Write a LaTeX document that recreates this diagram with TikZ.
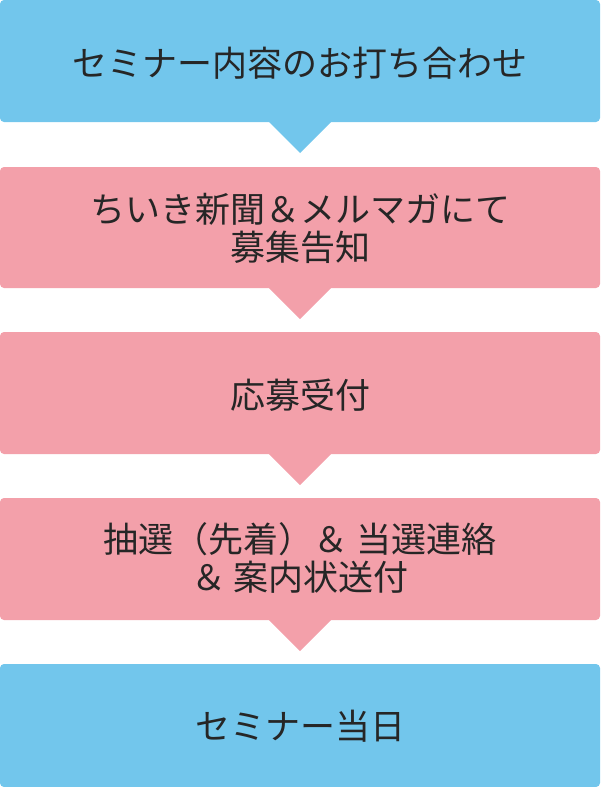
\documentclass[tikz,border=0pt]{standalone}
\usepackage{fontspec}
\setmainfont{Noto Sans CJK JP}
\definecolor{bl}{HTML}{72C6EC}
\definecolor{pk}{HTML}{F3A0AA}
\begin{document}
\begin{tikzpicture}[x=1pt,y=-1pt,
  boxst/.style={rounded corners=4pt},
  txt/.style={font=\fontsize{35}{38}\selectfont,align=center,text=black!85}]
\useasboundingbox (0,0) rectangle (600,787);
\fill[bl,boxst] (0,0) rectangle (600,122);
\fill[bl] (268,121) -- (332,121) -- (300,153) -- cycle;
\fill[pk,boxst] (0,167) rectangle (600,288);
\fill[pk] (268,287) -- (332,287) -- (300,319) -- cycle;
\fill[pk,boxst] (0,332) rectangle (600,454);
\fill[pk] (268,453) -- (332,453) -- (300,485) -- cycle;
\fill[pk,boxst] (0,498) rectangle (600,620);
\fill[pk] (268,619) -- (332,619) -- (300,651) -- cycle;
\fill[bl,boxst] (0,664) rectangle (600,787);
\node[txt] (a) at (300,63) {セミナー内容のお打ち合わせ};
\node[txt] (b) at (300,228) {ちいき新聞＆メルマガにて\\募集告知};
\node[txt] (c) at (300,395) {応募受付};
\node[txt] (d) at (300,558) {抽選（先着）＆ 当選連絡\\＆ 案内状送付};
\node[txt] (e) at (300,726) {セミナー当日};
\end{tikzpicture}
\end{document}
